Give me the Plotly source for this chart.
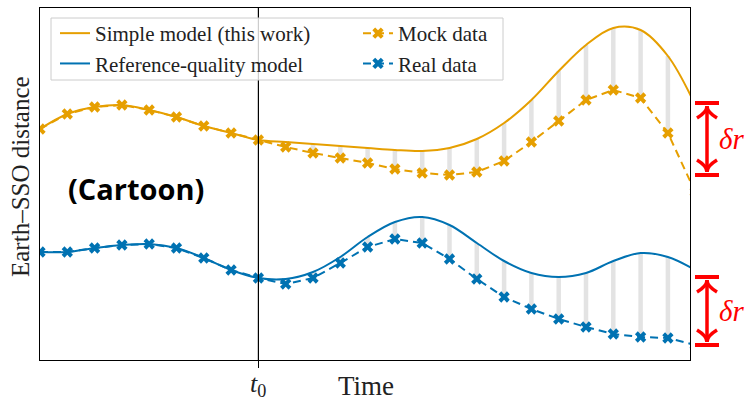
import plotly.graph_objects as go

# time index (marker spacing units), t0 at index 8
t = list(range(25))
t0 = 8

# Earth-SSO distance (arbitrary units)
mock_data = [231, 246, 253, 255, 250, 243, 234, 227, 220, 213, 207, 202, 197, 191, 187,
             185, 188, 199, 218, 239, 260, 270, 262, 227, 168]
simple_model = [231, 246, 253, 255, 250, 243, 234, 227, 220, 218, 216, 214, 212, 210, 209,
                212, 221, 237, 260, 289, 315, 332, 330, 304, 255]
real_data = [108, 108, 112, 115, 116, 112, 102, 90, 82, 76, 82, 97, 113, 121, 117,
             101, 81, 63, 51, 41, 33, 26, 23, 22, 15]
ref_model = [108, 108, 112, 115, 116, 112, 102, 90, 82, 81, 88, 103, 123, 138, 143,
             135, 117, 99, 87, 83, 87, 99, 107, 103, 90]

ORANGE = "#E69F00"
BLUE = "#0072B2"
SERIF = "Liberation Serif"

# residual bars (after t0)
bx, by = [], []
for i in range(t0 + 1, 24):
    for m, d in ((simple_model, mock_data), (ref_model, real_data)):
        bx += [t[i], t[i], None]
        by += [m[i], d[i], None]

fig = go.Figure()
fig.add_trace(go.Scatter(x=bx, y=by, mode="lines", line=dict(color="#e3e3e3", width=4.5),
                         showlegend=False, hoverinfo="skip"))
fig.add_trace(go.Scatter(x=t, y=simple_model, mode="lines", name="Simple model (this work)",
                         legend="legend",
                         line=dict(color=ORANGE, width=2, shape="spline", smoothing=1.0)))
fig.add_trace(go.Scatter(x=t, y=ref_model, mode="lines", name="Reference-quality model",
                         legend="legend",
                         line=dict(color=BLUE, width=2, shape="spline", smoothing=1.0)))
fig.add_trace(go.Scatter(x=t, y=mock_data, mode="lines+markers", name="Mock data",
                         legend="legend2",
                         line=dict(color=ORANGE, width=2, dash="8px,5px"),
                         marker=dict(symbol="x", size=10, color=ORANGE)))
fig.add_trace(go.Scatter(x=t, y=real_data, mode="lines+markers", name="Real data",
                         legend="legend2",
                         line=dict(color=BLUE, width=2, dash="8px,5px"),
                         marker=dict(symbol="x", size=10, color=BLUE)))

# t0 vertical line
fig.add_shape(type="line", xref="x", yref="paper", x0=t0, x1=t0, y0=0, y1=1,
              line=dict(color="black", width=1.2))

def px2paper(px):
    return (px - 40) / 650.0

def py2paper(py):
    return (360 - py) / 352.0

# legend frame
fig.add_shape(type="rect", xref="paper", yref="paper",
              x0=px2paper(51), x1=px2paper(503), y0=py2paper(80), y1=py2paper(18),
              fillcolor="rgba(255,255,255,0.8)", line=dict(color="#cccccc", width=1),
              layer="above")

# delta-r arrows
def dr_arrow(ytop, ybot):
    xc = px2paper(707)
    xl, xr = px2paper(695), px2paper(719)
    red = "#ff0000"
    fig.add_shape(type="line", xref="paper", yref="y", x0=xc, x1=xc, y0=ytop - 3, y1=ybot + 3,
                  line=dict(color=red, width=3.5))
    for yy in (ytop, ybot):
        fig.add_shape(type="line", xref="paper", yref="y", x0=xl, x1=xr, y0=yy, y1=yy,
                      line=dict(color=red, width=4))
    dx = 10 / 650.0
    for tip, sgn in ((ytop - 3, -1), (ybot + 3, 1)):
        yb = tip + sgn * 12
        ym = tip + sgn * 6
        path = (f"M {xc-dx},{yb} Q {xc},{ym} {xc},{tip} Q {xc},{ym} {xc+dx},{yb}")
        fig.add_shape(type="path", xref="paper", yref="y", path=path,
                      line=dict(color=red, width=3.5))
    fig.add_annotation(x=px2paper(731), xref="paper", y=(ytop + ybot) / 2, yref="y",
                       xanchor="center", yanchor="middle",
                       text="<i>δr</i>", showarrow=False,
                       font=dict(family=SERIF, size=29, color=red))

dr_arrow(360 - 103, 360 - 175)
dr_arrow(360 - 277, 360 - 345)

fig.add_annotation(x=px2paper(136), xref="paper", y=360 - 188, yref="y", text="<b>(Cartoon)</b>",
                   xanchor="center", yanchor="middle",
                   showarrow=False, font=dict(family="Open Sans", size=29, color="black"))
fig.add_annotation(x=px2paper(366), xref="paper", y=py2paper(403), yref="paper", text="Time",
                   showarrow=False, xanchor="center", yanchor="bottom",
                   font=dict(family=SERIF, size=27, color="#222"))
fig.add_annotation(x=t0, xref="x", y=py2paper(403), yref="paper",
                   text="<i>t</i><sub>0</sub>", showarrow=False, xanchor="center", yanchor="bottom",
                   font=dict(family=SERIF, size=26, color="#222"))
fig.add_annotation(x=-20 / 650, xref="paper", y=py2paper(177), yref="paper",
                   text="Earth–SSO distance", textangle=-90, showarrow=False,
                   xanchor="center", yanchor="middle",
                   font=dict(family=SERIF, size=25, color="#222"))

legend_common = dict(orientation="v", xanchor="left", yanchor="top",
                     bgcolor="rgba(0,0,0,0)", borderwidth=0,
                     font=dict(family=SERIF, size=21, color="#222"))

fig.update_layout(
    width=747, height=403,
    margin=dict(l=40, r=57, t=8, b=43, autoexpand=False),
    plot_bgcolor="white", paper_bgcolor="white",
    showlegend=True,
    legend=dict(x=px2paper(55), y=py2paper(13), **legend_common),
    legend2=dict(x=px2paper(358), y=py2paper(13), **legend_common),
    xaxis=dict(range=[0, 650 / 27.3], showgrid=False, zeroline=False, showline=True, mirror=True,
               linecolor="black", linewidth=1, tickvals=[t0], showticklabels=False,
               ticks="outside", ticklen=7, tickcolor="black", automargin=False),
    yaxis=dict(range=[0, 352], showgrid=False, zeroline=False, showline=True, mirror=True,
               linecolor="black", linewidth=1, showticklabels=False, ticks="", automargin=False),
)

fig.write_html("out.html")
